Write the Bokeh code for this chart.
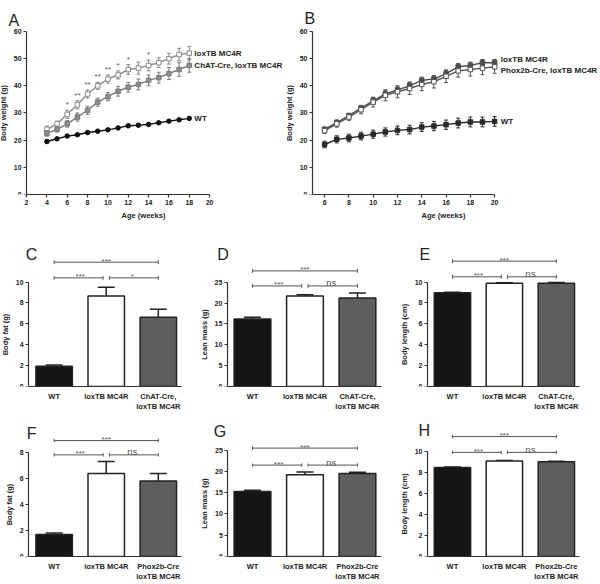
from bokeh.plotting import figure
from bokeh.layouts import column, row
from bokeh.models import FixedTicker, Range1d
from bokeh.embed import file_html
from bokeh.resources import INLINE
from bokeh.core.properties import value

FONT = "Liberation Sans"

# ---------------- Panel A data ----------------
a_weeks = [4, 5, 6, 7, 8, 9, 10, 11, 12, 13, 14, 15, 16, 17, 18]
a_lox = [24.0, 26.0, 29.5, 33.0, 37.0, 40.0, 42.5, 44.0, 46.0, 46.5, 47.5, 48.5, 50.0, 51.5, 52.0]
a_lox_err = [1.2, 1.0, 1.5, 1.5, 1.5, 1.3, 1.5, 1.5, 1.8, 2.2, 2.0, 1.8, 2.0, 2.3, 2.5]
a_chat = [22.5, 24.0, 26.0, 28.5, 31.0, 34.0, 36.0, 38.0, 39.5, 40.5, 42.0, 43.0, 44.5, 46.0, 47.5]
a_chat_err = [1.0, 1.0, 1.2, 1.5, 1.5, 1.5, 1.5, 1.8, 1.8, 2.0, 2.0, 2.0, 2.2, 2.5, 2.5]
a_wt = [19.5, 20.5, 21.5, 22.0, 22.8, 23.3, 23.8, 24.5, 25.3, 25.5, 25.8, 26.4, 27.0, 27.5, 28.0]
a_wt_err = [0.5, 0.4, 0.4, 0.4, 0.4, 0.4, 0.4, 0.4, 0.4, 0.4, 0.4, 0.4, 0.4, 0.4, 0.4]
a_names = ["loxTB MC4R", "ChAT-Cre, loxTB MC4R", "WT"]
a_sig_weeks = [6, 7, 8, 9, 10, 11, 12, 14]
a_sig_labels = ["*", "**", "**", "**", "**", "*", "*", "*"]
a_xticks = [2, 4, 6, 8, 10, 12, 14, 16, 18, 20]

# ---------------- Panel B data ----------------
b_weeks = [6, 7, 8, 9, 10, 11, 12, 13, 14, 15, 16, 17, 18, 19, 20]
b_lox = [24.0, 26.5, 29.0, 31.8, 34.5, 37.0, 38.5, 40.0, 42.0, 42.5, 44.5, 47.0, 47.5, 48.5, 48.5]
b_lox_err = [0.8, 0.9, 0.9, 1.0, 1.2, 1.3, 1.4, 1.4, 1.2, 1.3, 1.3, 1.2, 1.2, 1.2, 1.2]
b_phox = [23.5, 26.0, 28.5, 31.2, 34.0, 36.5, 37.8, 39.0, 40.5, 41.5, 43.5, 45.5, 46.0, 46.5, 47.0]
b_phox_err = [1.0, 1.2, 1.2, 1.5, 1.8, 2.0, 2.2, 2.2, 2.3, 2.3, 2.3, 2.3, 2.4, 2.4, 2.4]
b_wt = [18.4, 20.3, 20.8, 21.5, 22.2, 23.0, 23.6, 23.9, 24.8, 25.2, 25.7, 26.3, 26.7, 26.7, 26.9]
b_wt_err = [1.2, 1.3, 1.4, 1.4, 1.5, 1.5, 1.6, 1.6, 1.6, 1.7, 1.7, 1.8, 1.8, 1.8, 1.8]
b_names = ["loxTB MC4R", "Phox2b-Cre, loxTB MC4R", "WT"]
b_xticks = [6, 8, 10, 12, 14, 16, 18, 20]

y_ticks_weight = [0, 10, 20, 30, 40, 50, 60]

# ---------------- Bar panels data ----------------
chat_groups = ["WT", "loxTB MC4R", "ChAT-Cre,\nloxTB MC4R"]
phox_groups = ["WT", "loxTB MC4R", "Phox2b-Cre\nloxTB MC4R"]

c_fat = [1.93, 8.67, 6.64]
c_fat_err = [0.13, 0.83, 0.76]
d_lean = [16.2, 21.7, 21.2]
d_lean_err = [0.4, 0.3, 1.2]
e_len = [8.98, 9.88, 9.88]
e_len_err = [0.05, 0.05, 0.07]
f_fat = [1.68, 6.37, 5.79]
f_fat_err = [0.12, 0.93, 0.58]
g_lean = [15.3, 19.2, 19.5]
g_lean_err = [0.3, 0.7, 0.3]
h_len = [8.46, 9.08, 9.0]
h_len_err = [0.05, 0.05, 0.05]

sig_chat_fat = ["***", "***", "*"]
sig_ns = ["***", "***", "ns"]

BAR_FILLS = ["#151515", "#ffffff", "#5e5e5e"]


def style_axes(p, tick_size="7px"):
    for ax in p.axis:
        ax.major_label_text_font = FONT
        ax.major_label_text_font_size = tick_size
        ax.major_label_text_font_style = "bold"
        ax.major_label_text_color = "#222222"
        ax.axis_label_text_font = FONT
        ax.axis_label_text_font_size = "7.5px"
        ax.axis_label_text_font_style = "bold"
        ax.axis_label_text_color = "#222222"
        ax.axis_label_standoff = 3
        ax.major_label_standoff = 2
        ax.major_tick_out = 3
        ax.major_tick_in = 0
        ax.minor_tick_out = 0
        ax.minor_tick_in = 0
        ax.axis_line_width = 1.2
        ax.axis_line_color = "#333333"
        ax.major_tick_line_color = "#333333"
        ax.major_tick_line_width = 1.2
    p.xgrid.visible = False
    p.ygrid.visible = False
    p.outline_line_color = None


def add_letter(p, letter, x, y, dx, dy):
    p.text(x=[x], y=[y], text=[letter], text_font=value(FONT), text_font_size="16px",
           text_align="left", text_baseline="alphabetic", text_color="#222222",
           x_offset=dx, y_offset=dy)


def add_errbars(p, xs, ys, errs, color, cap):
    hi = [y + e for y, e in zip(ys, errs)]
    lo = [y - e for y, e in zip(ys, errs)]
    p.segment(x0=xs, y0=lo, x1=xs, y1=hi, line_color=color, line_width=1)
    p.scatter(x=xs, y=hi, marker="dash", size=cap, line_color=color, line_width=1)
    p.scatter(x=xs, y=lo, marker="dash", size=cap, line_color=color, line_width=1)


def line_panel(letter, weeks, series, errs, names, styles, xr, x_axis0, xticks,
               width, letter_dx, letter_dy, label_dy):
    p = figure(width=width, height=222, x_range=Range1d(*xr),
               y_range=Range1d(0, 71.4), output_backend="svg", toolbar_location=None,
               min_border_left=0, min_border_right=0, min_border_top=0,
               min_border_bottom=28)
    p.xaxis.ticker = FixedTicker(ticks=xticks)
    p.xaxis.bounds = (x_axis0, xticks[-1])
    p.yaxis.ticker = FixedTicker(ticks=y_ticks_weight)
    p.yaxis.bounds = (0, 60)
    p.yaxis.fixed_location = x_axis0
    p.xaxis.axis_label = "Age (weeks)"
    p.yaxis.axis_label = "Body weight (g)"
    style_axes(p)
    for ys, es, st in zip(series, errs, styles):
        add_errbars(p, weeks, ys, es, st["ecolor"], 4)
        p.line(weeks, ys, line_color=st["line"], line_width=1.4)
        p.scatter(weeks, ys, marker=st["marker"], size=st["size"],
                  fill_color=st["fill"], line_color=st["line"], line_width=1)
    lx = [weeks[-1] + 0.5] * len(series)
    ly = [s[-1] for s in series]
    p.text(x=lx, y=ly, text=names, text_font=value(FONT), text_font_size="8px",
           text_font_style="bold", text_baseline="middle", text_color="#222222",
           y_offset=label_dy)
    add_letter(p, letter, x_axis0, 60, letter_dx, letter_dy)
    return p


a_styles = [
    dict(line="#8a8a8a", fill="#ffffff", marker="square", size=4.5, ecolor="#8a8a8a"),
    dict(line="#7a7a7a", fill="#8c8c8c", marker="square", size=4.5, ecolor="#7a7a7a"),
    dict(line="#111111", fill="#111111", marker="circle", size=4.5, ecolor="#111111"),
]
pA = line_panel("A", a_weeks, [a_lox, a_chat, a_wt], [a_lox_err, a_chat_err, a_wt_err],
                a_names, a_styles, (-0.56, 27.56), 2, a_xticks, 286, -18, -11, [0, 0, 0])
sig_y = [a_lox[a_weeks.index(w)] + a_lox_err[a_weeks.index(w)] for w in a_sig_weeks]
pA.text(x=a_sig_weeks, y=sig_y, text=a_sig_labels, text_font=value(FONT),
        text_font_size="8px", text_align="center", text_baseline="bottom",
        text_color="#555555", y_offset=-1)

b_styles = [
    dict(line="#4a4a4a", fill="#4a4a4a", marker="square", size=4.5, ecolor="#4a4a4a"),
    dict(line="#555555", fill="#ffffff", marker="square", size=4.5, ecolor="#555555"),
    dict(line="#2a2a2a", fill="#2a2a2a", marker="square", size=4.5, ecolor="#2a2a2a"),
]
pB = line_panel("B", b_weeks, [b_lox, b_phox, b_wt], [b_lox_err, b_phox_err, b_wt_err],
                b_names, b_styles, (2.86, 28.72), 5, b_xticks, 314, -8, -13, [-3, 4, 0])


def bar_panel(letter, ylabel, vals, errs, groups, sigs, yticks, y_top, levels,
              width, height, xr, axis_x, letter_dx, letter_dy):
    p = figure(width=width, height=height, x_range=Range1d(*xr),
               y_range=Range1d(0, y_top), output_backend="svg", toolbar_location=None,
               min_border_left=0, min_border_right=0, min_border_top=0,
               min_border_bottom=27)
    xs = [1, 2, 3]
    p.xaxis.ticker = FixedTicker(ticks=xs)
    p.xaxis.major_label_overrides = {x: g for x, g in zip(xs, groups)}
    p.xaxis.bounds = (axis_x, 3.45)
    p.yaxis.ticker = FixedTicker(ticks=yticks)
    p.yaxis.bounds = (0, yticks[-1])
    p.yaxis.fixed_location = axis_x
    p.yaxis.axis_label = ylabel
    style_axes(p)
    p.xaxis.major_tick_out = 0
    p.xaxis.major_label_standoff = 5
    p.xaxis.major_label_text_font_size = "7.5px"
    hi = [v + e for v, e in zip(vals, errs)]
    p.segment(x0=xs, y0=vals, x1=xs, y1=hi, line_color="#222222", line_width=1.5)
    p.scatter(x=xs, y=hi, marker="dash", size=17, line_color="#222222", line_width=1.5)
    p.vbar(x=xs, top=vals, width=0.7, fill_color=BAR_FILLS, line_color="#222222",
           line_width=1.5)
    # significance brackets: (WT, third) on top, (WT, lox) and (lox, third) below
    pairs = [(1, 3), (1, 2), (2, 3)]
    lv = [levels[1], levels[0], levels[0]]
    gap = 0.06
    bx0 = [a + (gap if a == 2 else 0) for a, b in pairs]
    bx1 = [b - (gap if b == 2 else 0) for a, b in pairs]
    tick = y_top * 0.012
    p.segment(x0=bx0, y0=lv, x1=bx1, y1=lv, line_color="#555555", line_width=1)
    p.segment(x0=bx0, y0=[l - tick for l in lv], x1=bx0, y1=[l + tick for l in lv],
              line_color="#555555", line_width=1)
    p.segment(x0=bx1, y0=[l - tick for l in lv], x1=bx1, y1=[l + tick for l in lv],
              line_color="#555555", line_width=1)
    mids = [(a + b) / 2 for a, b in pairs]
    stars = [i for i, s in enumerate(sigs) if s != "ns"]
    nss = [i for i, s in enumerate(sigs) if s == "ns"]
    if stars:
        p.text(x=[mids[i] for i in stars], y=[lv[i] for i in stars],
               text=[sigs[i] for i in stars], text_font=value(FONT), text_font_size="8px",
               text_align="center", text_baseline="alphabetic", text_color="#555555",
               y_offset=-1)
    if nss:
        p.text(x=[mids[i] for i in nss], y=[lv[i] for i in nss],
               text=[sigs[i] for i in nss], text_font=value(FONT), text_font_size="9.5px",
               text_align="center", text_baseline="alphabetic", text_color="#555555",
               y_offset=-3)
    add_letter(p, letter, axis_x, yticks[-1], letter_dx, letter_dy)
    return p


H2, H3 = 192, 170
pC = bar_panel("C", "Body fat (g)", c_fat, c_fat_err, chat_groups, sig_chat_fat,
               [0, 2, 4, 6, 8, 10], 15.7, [10.4, 11.9], 200, H2,
               (-0.03, 3.81), 0.51, -3, -28)
pD = bar_panel("D", "Lean mass (g)", d_lean, d_lean_err, chat_groups, sig_ns,
               [0, 5, 10, 15, 20, 25], 39.3, [24.1, 27.7], 200, H2,
               (0.01, 3.82), 0.52, -10, -28)
pE = bar_panel("E", "Body length (cm)", e_len, e_len_err, chat_groups, sig_ns,
               [0, 2, 4, 6, 8, 10], 15.7, [10.5, 12.0], 200, H2,
               (0.0, 3.85), 0.52, -8, -28)
pF = bar_panel("F", "Body fat (g)", f_fat, f_fat_err, phox_groups, sig_ns,
               [0, 2, 4, 6, 8], 10.9, [7.8, 8.9], 200, H3,
               (-0.03, 3.81), 0.51, -2, -19)
pG = bar_panel("G", "Lean mass (g)", g_lean, g_lean_err, phox_groups, sig_ns,
               [0, 5, 10, 15, 20, 25], 33.4, [21.5, 25.5], 200, H3,
               (0.01, 3.82), 0.53, -14, -19)
pH = bar_panel("H", "Body length (cm)", h_len, h_len_err, phox_groups, sig_ns,
               [0, 2, 4, 6, 8, 10], 13.5, [9.9, 11.4], 200, H3,
               (0.0, 3.85), 0.52, -9, -21)

layout = column(row(pA, pB), row(pC, pD, pE), row(pF, pG, pH))

open("out.html", "w").write(file_html(layout, INLINE))
